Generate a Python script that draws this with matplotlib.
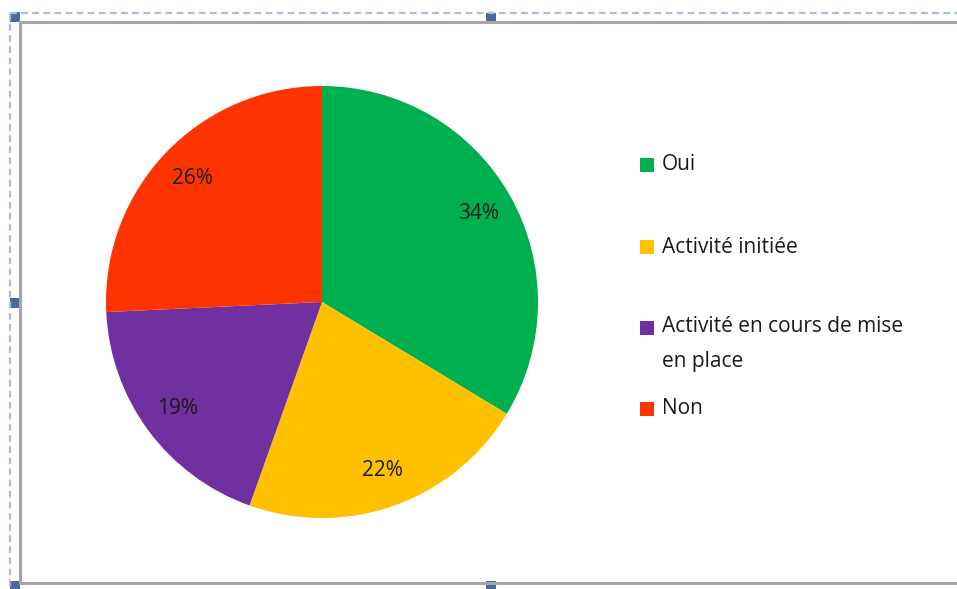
import matplotlib.pyplot as plt
from matplotlib.lines import Line2D
from matplotlib.patches import Rectangle

labels = ["Oui", "Activité initiée", "Activité en cours de mise\nen place", "Non"]
values = [34, 22, 19, 26]
colors = ["#00B050", "#FFC000", "#7030A0", "#FF3300"]

W, H = 957, 589
fig = plt.figure(figsize=(W / 100, H / 100), dpi=100)
plt.rcParams['font.family'] = ['Open Sans', 'DejaVu Sans']

def fx(x):
    return x / W

def fy(y):
    return 1 - y / H

# selection frame (like a chart selected in a spreadsheet)
fig.add_artist(Line2D([fx(10), fx(W)], [fy(13), fy(13)], color="#A9BCD9", lw=1.6, ls=(0, (3, 2))))
fig.add_artist(Line2D([fx(10), fx(10)], [fy(13), fy(H)], color="#A9BCD9", lw=1.6, ls=(0, (3, 2))))
fig.add_artist(Line2D([fx(20), fx(W)], [fy(22), fy(22)], color="#A6A6A6", lw=2.2))
fig.add_artist(Line2D([fx(20), fx(20)], [fy(22), fy(583)], color="#A6A6A6", lw=2.2))
fig.add_artist(Line2D([fx(20), fx(W)], [fy(583), fy(583)], color="#A6A6A6", lw=2.2))
for hx, hy in [(15, 17), (491, 18), (15, 303), (15, 586), (491, 586)]:
    fig.add_artist(Rectangle((fx(hx - 5), fy(hy + 5)), 10 / W, 10 / H,
                             facecolor="#4A6B9A", edgecolor="none"))

# pie
cx, cy, r = 322, 302, 216
ax = fig.add_axes([fx(cx - r), fy(cy + r), 2 * r / W, 2 * r / H])
ax.pie(values, colors=colors, startangle=90, counterclock=False,
       autopct='%1.0f%%', pctdistance=0.83,
       wedgeprops=dict(linewidth=0),
       textprops=dict(fontsize=15, color="#1a1a1a"))
ax.set_xlim(-1, 1)
ax.set_ylim(-1, 1)
ax.axis('off')

# legend
legend_y = [165, 247, 344, 409]
for lab, col, ly in zip(labels, colors, legend_y):
    sy = ly - 16 if '\n' in lab else ly
    fig.add_artist(Rectangle((fx(640), fy(sy + 7)), 14 / W, 14 / H,
                             facecolor=col, edgecolor="none"))
    fig.text(fx(662), fy(ly), lab, fontsize=15, color="#1a1a1a",
             va='center', ha='left', linespacing=1.85)

fig.savefig("out.png", dpi=100)
